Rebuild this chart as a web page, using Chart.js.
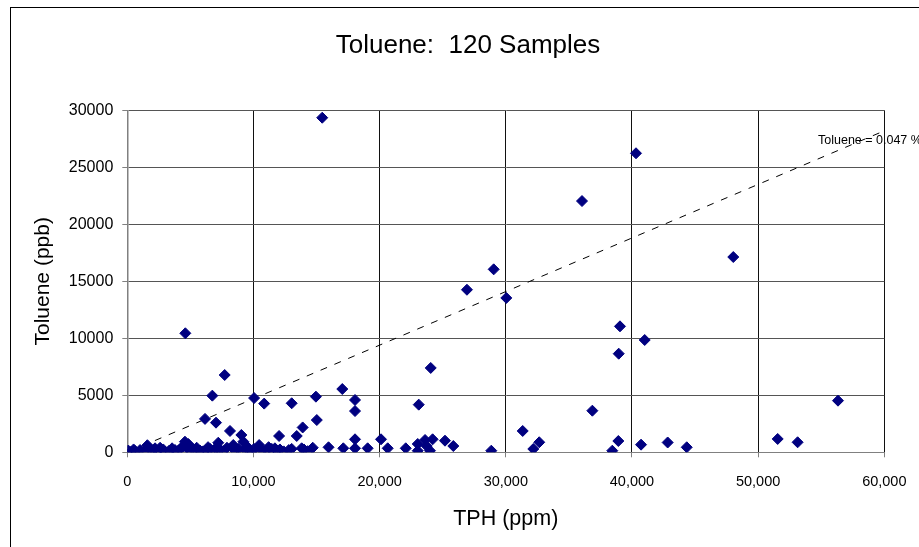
<!DOCTYPE html>
<html>
<head>
<meta charset="utf-8">
<script src="https://cdn.jsdelivr.net/npm/chart.js@4.4.1/dist/chart.umd.min.js"></script>
<style>
html,body{margin:0;padding:0;background:#fff;}
#wrap{position:relative;width:919px;height:547px;overflow:hidden;}
</style>
</head>
<body>
<div id="wrap"><canvas id="c" width="919" height="547"></canvas></div>
<script>
// ---- Data ----
const tphPpm = [
  15450, 40320, 36040, 48030, 29040, 26920, 30040, 39050, 4600, 41010,
  38950, 24050, 7720, 17040, 6740, 14950, 10050, 18050, 56330, 10850,
  13030, 23100, 36860, 18050, 6160, 15020, 7030, 13900, 8140, 31340,
  9040, 12030, 13430, 51550, 18050, 20110, 24200, 23600, 25180, 38920,
  9200, 42830, 53130, 32650, 23020, 40720, 25840, 23730, 44340, 15950,
  32180, 17120, 18050, 19050, 20640, 22070, 23020, 23990, 28850, 38440,
  14000, 13030, 11700, 8400, 10450,
  80, 610, 1010, 1590, 2060, 2380, 2850, 3330, 3780, 4180,
  4570, 4840, 5230, 5760, 6240, 6560, 6870, 7210, 7350, 8540,
  9330, 9670, 10040, 11050, 11450, 11840, 12100, 13820,
  300, 1300, 1800, 2600, 3000, 3550, 4000, 4400, 4700, 5000,
  5500, 6000, 6400, 7000, 7600, 7900, 8800, 9500, 9900, 10700,
  11200, 12400, 12800, 14300, 14700, 500, 2200
];
const toluenePpb = [
  29350, 26230, 22040, 17130, 16050, 14260, 13540, 11050, 10440, 9850,
  8650, 7400, 6780, 5550, 4970, 4880, 4760, 4590, 4530, 4270,
  4300, 4180, 3650, 3620, 2930, 2830, 2600, 2180, 1870, 1870,
  1520, 1430, 1430, 1170, 1140, 1140, 1140, 1080, 1020, 990,
  930, 860, 880, 880, 730, 670, 550, 550, 440, 440,
  290, 350, 350, 350, 350, 350, 140, 140, 140, 140,
  250, 300, 350, 640, 640,
  150, 120, 200, 620, 180, 100, 250, 150, 200, 300,
  930, 720, 250, 150, 200, 300, 180, 840, 250, 150,
  250, 120, 300, 200, 300, 150, 250, 350,
  50, 80, 300, 400, 60, 350, 100, 500, 400, 150,
  400, 80, 450, 350, 100, 400, 300, 500, 80, 150,
  450, 80, 200, 100, 400, 250, 350
];
const trendTph = [0, 60000];
const trendToluene = [0, 28200];
const xTickValues = [0, 10000, 20000, 30000, 40000, 50000, 60000];
const yTickValues = [0, 5000, 10000, 15000, 20000, 25000, 30000];
const chartTitle = 'Toluene:  120 Samples';
const trendLabel = 'Toluene = 0.047 %';
const xTitle = 'TPH (ppm)';
const yTitle = 'Toluene (ppb)';

const FONT = '"Liberation Sans", Arial, sans-serif';

const points = tphPpm.map((x, i) => ({x: x, y: toluenePpb[i]}));
const trend = trendTph.map((x, i) => ({x: x, y: trendToluene[i]}));

const decor = {
  id: 'decor',
  beforeDraw(chart) {
    const ctx = chart.ctx;
    ctx.save();
    ctx.fillStyle = '#fff';
    ctx.fillRect(0, 0, chart.width, chart.height);
    ctx.strokeStyle = '#000';
    ctx.lineWidth = 1;
    ctx.strokeRect(10.5, 7.5, 1200, 1200);
    ctx.restore();
  },
  afterDraw(chart) {
    const ctx = chart.ctx;
    ctx.save();
    ctx.fillStyle = '#000';
    ctx.textAlign = 'center';
    ctx.textBaseline = 'middle';
    ctx.font = '26px ' + FONT;
    ctx.fillText(chartTitle, 468, 46);
    ctx.textAlign = 'left';
    ctx.font = '12.5px ' + FONT;
    ctx.fillText(trendLabel, 818, 141);
    ctx.restore();
  }
};

new Chart(document.getElementById('c'), {
  type: 'scatter',
  data: {
    datasets: [
      {
        type: 'line',
        data: trend,
        borderColor: '#000',
        borderWidth: 1,
        borderDash: [7, 8],
        pointRadius: 0,
        fill: false,
        order: 2
      },
      {
        data: points,
        pointStyle: 'rectRot',
        pointRadius: 5.5,
        pointBackgroundColor: '#000080',
        pointBorderColor: '#000080',
        pointBorderWidth: 1,
        order: 1
      }
    ]
  },
  options: {
    responsive: false,
    animation: false,
    devicePixelRatio: 1,
    layout: {padding: {top: 110.3, right: 34.7, left: 0, bottom: 0}},
    plugins: {legend: {display: false}, tooltip: {enabled: false}, title: {display: false}},
    scales: {
      x: {
        type: 'linear', min: 0, max: 60000,
        afterBuildTicks: s => { s.ticks = xTickValues.map(v => ({value: v})); },
        afterFit: s => { s.height = 94.7; s.paddingLeft = 0; s.paddingRight = 0; },
        ticks: {
          color: '#000', padding: 16, maxRotation: 0,
          font: {family: FONT, size: 14.5},
          callback: v => Number(v).toLocaleString('en-US')
        },
        grid: {color: '#111', lineWidth: 1, tickLength: 5, tickColor: '#808080'},
        border: {color: '#808080', width: 1},
        title: {display: true, text: xTitle, color: '#000', font: {family: FONT, size: 21.5}, padding: {top: 0, bottom: 15}}
      },
      y: {
        type: 'linear', min: 0, max: 30000,
        afterBuildTicks: s => { s.ticks = yTickValues.map(v => ({value: v})); },
        afterFit: s => { s.width = 127.3; s.paddingTop = 0; s.paddingBottom = 0; },
        ticks: {
          color: '#000', padding: 9,
          font: {family: FONT, size: 16},
          callback: v => String(v)
        },
        grid: {color: '#555', lineWidth: 1, tickLength: 5, tickColor: '#808080'},
        border: {color: '#808080', width: 1.5},
        title: {display: true, text: yTitle, color: '#000', font: {family: FONT, size: 21}, padding: {top: 31, bottom: 0}}
      }
    }
  },
  plugins: [decor]
});
</script>
</body>
</html>
